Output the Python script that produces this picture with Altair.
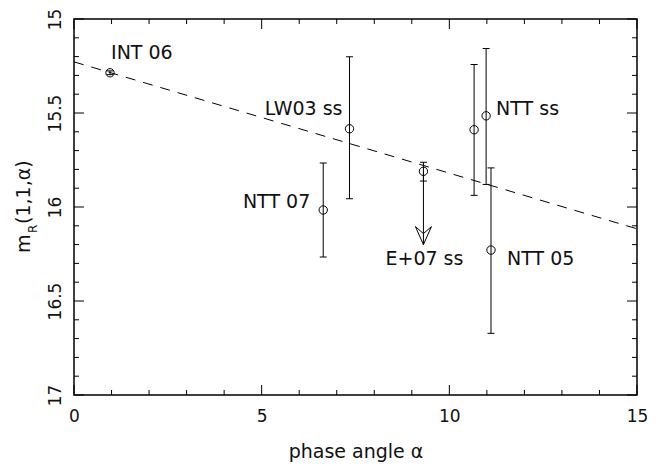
import altair as alt
import pandas as pd

# ---- data ----
labels = ["INT 06", "LW03 ss", "NTT 07", "E+07 ss", "", "NTT ss", "NTT 05"]
alpha = [0.96, 7.34, 6.64, 9.31, 10.66, 10.98, 11.11]
mag = [15.286, 15.584, 16.016, 15.810, 15.589, 15.515, 16.229]
err_lo = [15.276, 15.201, 15.766, 15.762, 15.242, 15.157, 15.792]
err_hi = [15.296, 15.956, 16.266, 15.862, 15.938, 15.880, 16.672]

# upper limit arrow (E+07 ss)
arrow_alpha = [9.31]
arrow_from = [15.810]
arrow_to = [16.20]

# fitted phase curve (dashed)
fit_alpha = [0.0, 15.0]
fit_mag = [15.228, 16.116]

# axis ticks
x_major = [0, 5, 10, 15]
x_minor = [1, 2, 3, 4, 6, 7, 8, 9, 11, 12, 13, 14]
y_major = [15.0, 15.5, 16.0, 16.5, 17.0]
y_minor = [15.1, 15.2, 15.3, 15.4, 15.6, 15.7, 15.8, 15.9,
           16.1, 16.2, 16.3, 16.4, 16.6, 16.7, 16.8, 16.9]

W, H = 563, 376
FONT = "DejaVu Sans"
INK = "#111"

df = pd.DataFrame({"label": labels, "alpha": alpha, "m": mag,
                   "lo": err_lo, "hi": err_hi})
arrow_df = pd.DataFrame({"alpha": arrow_alpha, "m0": arrow_from, "m1": arrow_to})
fit_df = pd.DataFrame({"alpha": fit_alpha, "m": fit_mag})

xs = alt.Scale(domain=[0, 15], nice=False, zero=False)
ys = alt.Scale(domain=[15, 17], nice=False, zero=False, reverse=True)

x_axis = alt.Axis(values=x_major, ticks=False, domain=False, grid=False,
                  labelFont=FONT, labelFontSize=17, labelColor=INK,
                  labelPadding=13, labelBaseline="top", labelFlush=False,
                  title="phase angle \u03b1", titleFont=FONT, titleFontSize=19,
                  titleFontWeight="normal", titleColor=INK,
                  titleY=62, titleBaseline="alphabetic")
y_axis = alt.Axis(values=y_major, ticks=False, domain=False, grid=False,
                  labelFont=FONT, labelFontSize=17, labelColor=INK,
                  labelAngle=270, labelAlign="center", labelFlush=False,
                  labelBaseline="alphabetic", labelPadding=14,
                  labelExpr="datum.value == 15 || datum.value == 16 || datum.value == 17 ? format(datum.value, 'd') : format(datum.value, '.1f')",
                  title="")


def X(field):
    return alt.X(field, type="quantitative", scale=xs, axis=x_axis)


def Y(field):
    return alt.Y(field, type="quantitative", scale=ys, axis=y_axis)


base = alt.Chart(df)

points = base.mark_point(shape="circle", size=70, filled=False,
                         color="black", strokeWidth=1, opacity=1).encode(
    x=X("alpha"), y=Y("m"))

bars = base.mark_rule(color="black", strokeWidth=1).encode(
    x=X("alpha"), y=Y("lo"), y2="hi")
cap_lo = base.mark_tick(orient="horizontal", size=7, thickness=1,
                        color="black", opacity=1).encode(x=X("alpha"), y=Y("lo"))
cap_hi = base.mark_tick(orient="horizontal", size=7, thickness=1,
                        color="black", opacity=1).encode(x=X("alpha"), y=Y("hi"))

arrow_shaft = alt.Chart(arrow_df).mark_rule(color="black", strokeWidth=1).encode(
    x=X("alpha"), y=Y("m0"), y2="m1")
arrow_head = alt.Chart(arrow_df).mark_point(
    shape="M-1.6,-3.6L0,0L1.6,-3.6L0,-2.2Z", size=100, filled=False,
    color="black", strokeWidth=1, opacity=1).encode(x=X("alpha"), y=Y("m1"))

fit = alt.Chart(fit_df).mark_line(color="black", strokeWidth=1,
                                  strokeDash=[10, 8]).encode(
    x=X("alpha"), y=Y("m"))

# point labels: (label, align, dx, dy)
label_style = [
    ("INT 06", "left", 1, -14),
    ("LW03 ss", "right", -7, -14),
    ("NTT 07", "right", -13, -2),
    ("E+07 ss", "center", 1, 94),
    ("NTT ss", "left", 10, -1),
    ("NTT 05", "left", 16, 15),
]
label_layers = []
for name, align, dx, dy in label_style:
    label_layers.append(
        base.transform_filter(alt.datum.label == name).mark_text(
            font=FONT, fontSize=19, color=INK, align=align,
            baseline="alphabetic", dx=dx, dy=dy).encode(
            x=X("alpha"), y=Y("m"), text="label"))


# inward ticks on all four sides
def xticks(vals, length):
    d = alt.Chart(pd.DataFrame({"v": vals}))
    bottom = d.mark_rule(color="black", strokeWidth=1).encode(
        x=X("v"), y=alt.value(H), y2=alt.value(H - length))
    top = d.mark_rule(color="black", strokeWidth=1).encode(
        x=X("v"), y=alt.value(0), y2=alt.value(length))
    return [bottom, top]


def yticks(vals, length):
    d = alt.Chart(pd.DataFrame({"v": vals}))
    left = d.mark_rule(color="black", strokeWidth=1).encode(
        y=Y("v"), x=alt.value(0), x2=alt.value(length))
    right = d.mark_rule(color="black", strokeWidth=1).encode(
        y=Y("v"), x=alt.value(W), x2=alt.value(W - length))
    return [left, right]


tick_layers = (xticks(x_major, 10) + xticks(x_minor, 5)
               + yticks(y_major, 10) + yticks(y_minor, 5))

# y-axis title m_R(1,1,alpha) built from pieces (subscript R)
one = alt.Data(values=[{"a": 1}])
ttl_m = alt.Chart(one).mark_text(text="m", font=FONT, fontSize=19, color=INK,
                                 angle=270, align="left", baseline="alphabetic").encode(
    x=alt.value(-44), y=alt.value(234))
ttl_r = alt.Chart(one).mark_text(text="R", font=FONT, fontSize=12, color=INK,
                                 angle=270, align="left", baseline="alphabetic").encode(
    x=alt.value(-37), y=alt.value(214))
ttl_rest = alt.Chart(one).mark_text(text="(1,1,\u03b1)", font=FONT, fontSize=19,
                                    color=INK, angle=270, align="left",
                                    baseline="alphabetic").encode(
    x=alt.value(-44), y=alt.value(205))

chart = alt.layer(
    points, fit, bars, cap_lo, cap_hi, arrow_shaft, arrow_head,
    *label_layers, *tick_layers, ttl_m, ttl_r, ttl_rest
).properties(
    width=W, height=H,
    autosize=alt.AutoSizeParams(type="none"),
    padding={"left": 66, "top": 11, "right": 15, "bottom": 68},
    background="white",
).configure_view(
    stroke="black", strokeWidth=1.5
)

chart.save("out.html", embed_options={"renderer": "svg", "actions": False})
